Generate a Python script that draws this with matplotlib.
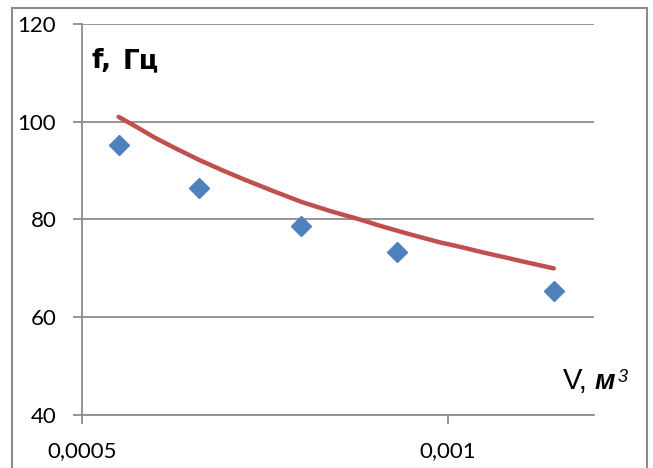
import numpy as np
import matplotlib
matplotlib.use("Agg")
from matplotlib import pyplot as plt
from matplotlib.patches import Rectangle

# measured points (V, m^3 ; f, Hz)
v_exp = [0.00055, 0.00066, 0.00080, 0.00093, 0.001145]
f_exp = [95.3, 86.5, 78.6, 73.3, 65.3]

# red curve, values
v_curve = [0.00055, 0.000575, 0.00060, 0.00063, 0.00066, 0.00069, 0.00072, 0.00076,
           0.00080, 0.00084, 0.00088, 0.00091, 0.00095, 0.00099, 0.00102, 0.00105,
           0.00108, 0.00110, 0.001145]
f_curve = [101.0, 98.9, 96.7, 94.4, 92.2, 90.2, 88.3, 85.9,
           83.6, 81.7, 80.0, 78.6, 76.9, 75.3, 74.3, 73.2,
           72.2, 71.5, 70.0]

x_ticks = [0.0005, 0.001]
x_tick_labels = ["0,0005", "0,001"]
y_ticks = [40, 60, 80, 100, 120]

W, H = 653, 468
fig = plt.figure(figsize=(W / 100, H / 100), dpi=100)

# chart area border
fig.patches.append(Rectangle((12 / W, -0.05), 635 / W, 1.05 - 8 / H,
                             transform=fig.transFigure, fill=False,
                             edgecolor="#8c8c8c", lw=1.5))

ax = fig.add_axes([82 / W, 1 - 415 / H, 512 / W, 391 / H])

grid_col = "#8c8c8c"
ax.plot(v_curve, f_curve, color="#c0504d", lw=3.2, solid_capstyle="round",
        solid_joinstyle="round", zorder=3)
ax.plot(v_exp, f_exp, "D", color="#4f81bd", ms=10, mec="#4f81bd", zorder=4)

ax.set_xlim(0.0005, 0.0012)
ax.set_ylim(40, 120)
ax.set_xticks(x_ticks)
ax.set_xticklabels(x_tick_labels)
ax.set_yticks(y_ticks)
ax.yaxis.grid(True, color=grid_col, lw=1.3)
ax.set_axisbelow(True)

for s in ["top", "right"]:
    ax.spines[s].set_visible(False)
for s in ["left", "bottom"]:
    ax.spines[s].set_color(grid_col)
    ax.spines[s].set_linewidth(1.3)

ax.tick_params(axis="both", length=6.5, width=1.3, color=grid_col,
               labelsize=16, pad=12)
for lab in ax.get_xticklabels() + ax.get_yticklabels():
    lab.set_fontfamily("Lato")

# axis titles placed inside the plot like in the original
fig.text(91 / W, 1 - 68 / H, "f,", fontsize=19, fontweight="bold",
         family="DejaVu Sans", va="baseline")
fig.text(123 / W, 1 - 68 / H, "Гц", fontsize=19, fontweight="bold",
         family="DejaVu Sans", va="baseline")

fig.text(563 / W, 1 - 389 / H, "V,", fontsize=21,
         family="Liberation Sans", va="baseline")
fig.text(595 / W, 1 - 389 / H, "м", fontsize=20, fontweight="bold",
         style="italic", family="Liberation Sans", va="baseline")
fig.text(618 / W, 1 - 382 / H, "3", fontsize=13, style="italic",
         family="Liberation Sans", va="baseline")

fig.savefig("out.png", dpi=100)
